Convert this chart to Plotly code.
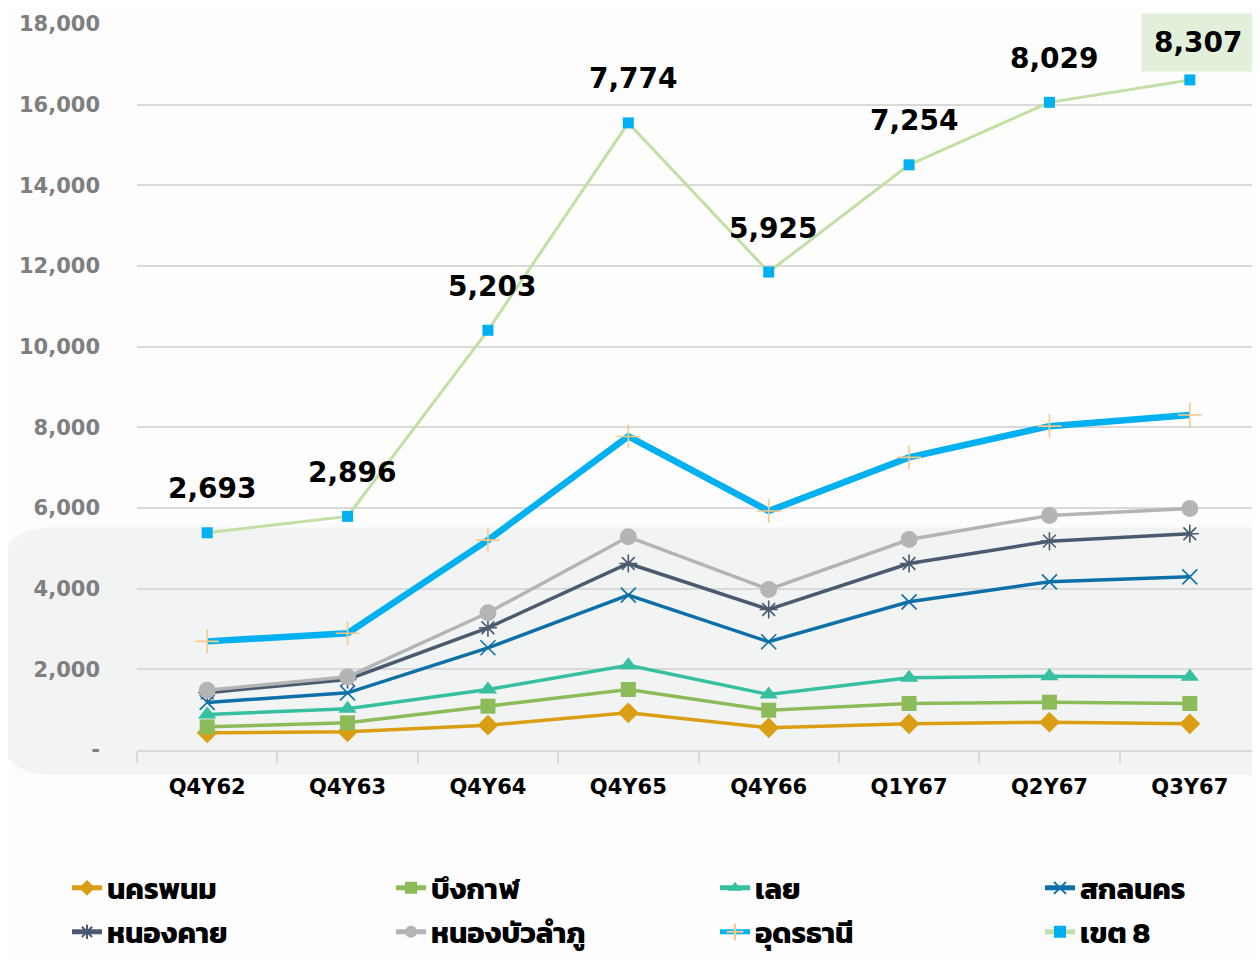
import plotly.graph_objects as go

quarters = ["Q4Y62", "Q4Y63", "Q4Y64", "Q4Y65", "Q4Y66", "Q1Y67", "Q2Y67", "Q3Y67"]

nakhon_phanom = [426, 451, 615, 922, 550, 650, 690, 650]
bueng_kan = [575, 674, 1086, 1500, 987, 1153, 1186, 1153]
loei = [880, 1021, 1500, 2103, 1376, 1790, 1830, 1815]
sakon_nakhon = [1180, 1418, 2534, 3839, 2683, 3674, 4170, 4294]
nong_khai = [1420, 1750, 3030, 4624, 3484, 4624, 5178, 5360]
nong_bua = [1483, 1815, 3402, 5286, 3980, 5219, 5815, 5988]
udon_thani = [2693, 2896, 5203, 7774, 5925, 7254, 8029, 8307]
zone8 = [5386, 5792, 10406, 15548, 11850, 14508, 16058, 16614]

zone8_labels = ["2,693", "2,896", "5,203", "7,774", "5,925", "7,254", "8,029", "8,307"]

y_tickvals = [0, 2000, 4000, 6000, 8000, 10000, 12000, 14000, 16000, 18000]
y_ticktext = ["-", "2,000", "4,000", "6,000", "8,000", "10,000", "12,000", "14,000", "16,000", "18,000"]

FONT = "'DejaVu Sans', 'Noto Sans', sans-serif"
THAI_FONT = "Kanit, 'Noto Sans Thai', 'Noto Sans', Roboto, sans-serif"

series = [
    ("นครพนม", nakhon_phanom, "#D99E14", 3.5, dict(symbol="diamond", size=16, color="#D99E14")),
    ("บึงกาฬ", bueng_kan, "#8DBB5A", 3.5, dict(symbol="square", size=15, color="#8DBB5A")),
    ("เลย", loei, "#36BFA1", 3.5, dict(symbol="triangle-up", size=16, color="#36BFA1")),
    ("สกลนคร", sakon_nakhon, "#0F70A9", 3.5,
     dict(symbol="x-thin-open", size=15, color="#0F70A9", line=dict(width=1.6, color="#0F70A9"))),
    ("หนองคาย", nong_khai, "#4A5B70", 3.5,
     dict(symbol="asterisk-open", size=15, color="#4A5B70", line=dict(width=1.6, color="#4A5B70"))),
    ("หนองบัวลำภู", nong_bua, "#B4B4B4", 3.5, dict(symbol="circle", size=17, color="#B4B4B4")),
    ("อุดรธานี", udon_thani, "#00B0F0", 6.5,
     dict(symbol="cross-thin-open", size=17, color="#F7C988", line=dict(width=1.6, color="#F7C988"))),
    ("เขต 8", zone8, "#C2E0A4", 3, dict(symbol="square", size=11, color="#00B0F0")),
]

# page body has an 8px margin: figure is 1252x952 placed at (8, 8)
PAGE_OFF = 8
PLOT_L, PLOT_W, PLOT_B, PLOT_H = 137, 1123, 750, 726
legend_cols = [67, 391, 715, 1040]
legend_rows = [888, 932]

fig = go.Figure()
layout_legends = {}
for i, (name, vals, col, w, mk) in enumerate(series):
    lg = "legend" if i == 0 else f"legend{i + 1}"
    fig.add_trace(go.Scatter(
        x=quarters, y=vals, name=name, mode="lines+markers",
        line=dict(color=col, width=w), marker=mk, legend=lg,
        cliponaxis=False,
    ))
    px = legend_cols[i % 4]
    py = legend_rows[i // 4]
    layout_legends[lg] = dict(
        x=(px - PLOT_L) / PLOT_W, xanchor="left",
        y=(PLOT_B - py) / PLOT_H, yanchor="middle",
        bgcolor="rgba(0,0,0,0)", borderwidth=0,
        font=dict(family=THAI_FONT, size=29, color="#000000", weight="bold"),
        itemsizing="constant", orientation="h",
    )

for i, (q, v, t) in enumerate(zip(quarters, zone8, zone8_labels)):
    last = i == len(quarters) - 1
    fig.add_annotation(
        x=q, y=v, text=t, showarrow=False, yshift=44 if not last else 37,
        xshift=5 if not last else 9,
        font=dict(family=FONT, size=28, color="#000000", weight="bold"),
        bgcolor="#E2EFDA" if last else "rgba(0,0,0,0)",
        borderpad=12 if last else 0,
    )

# watermark-like light band with rounded left corners
bx0, bx1, by0, by1 = -0.122, 1.0, -0.034, 0.306
rdx, rdy = 50 / PLOT_W, 50 / PLOT_H
band_path = (
    f"M {bx0},{by0 + rdy} L {bx0},{by1 - rdy} Q {bx0},{by1} {bx0 + rdx},{by1} "
    f"L {bx1},{by1} L {bx1},{by0} L {bx0 + rdx},{by0} Q {bx0},{by0} {bx0},{by0 + rdy} Z"
)
fig.add_shape(type="path", xref="paper", yref="paper", path=band_path,
              fillcolor="#F2F4F3", line=dict(width=0), layer="below")

fig.update_layout(
    width=1260 - PAGE_OFF, height=960 - PAGE_OFF,
    paper_bgcolor="#FDFDFD", plot_bgcolor="rgba(0,0,0,0)",
    margin=dict(l=PLOT_L - PAGE_OFF, r=0, t=24 - PAGE_OFF, b=210, autoexpand=False),
    font=dict(family=FONT, size=20, color="#000000"),
    showlegend=True,
    xaxis=dict(
        range=[-0.5, 7.5], showgrid=False, zeroline=False,
        showline=True, linecolor="#D9D9D9", linewidth=2,
        ticks="outside", tickson="boundaries", ticklen=11, tickcolor="#D9D9D9", tickwidth=2,
        tickfont=dict(family=FONT, size=21, color="#000000", weight="bold"),
        ticklabelstandoff=17,
    ),
    yaxis=dict(
        range=[0, 18000], tickvals=y_tickvals, ticktext=y_ticktext,
        showgrid=True, gridcolor="#D9D9D9", gridwidth=2, zeroline=False, showline=False,
        tickfont=dict(family=FONT, size=21, color="#7F7F7F", weight="bold"),
        ticklabelstandoff=36,
    ),
    **layout_legends,
)

fig.write_html("out.html")
